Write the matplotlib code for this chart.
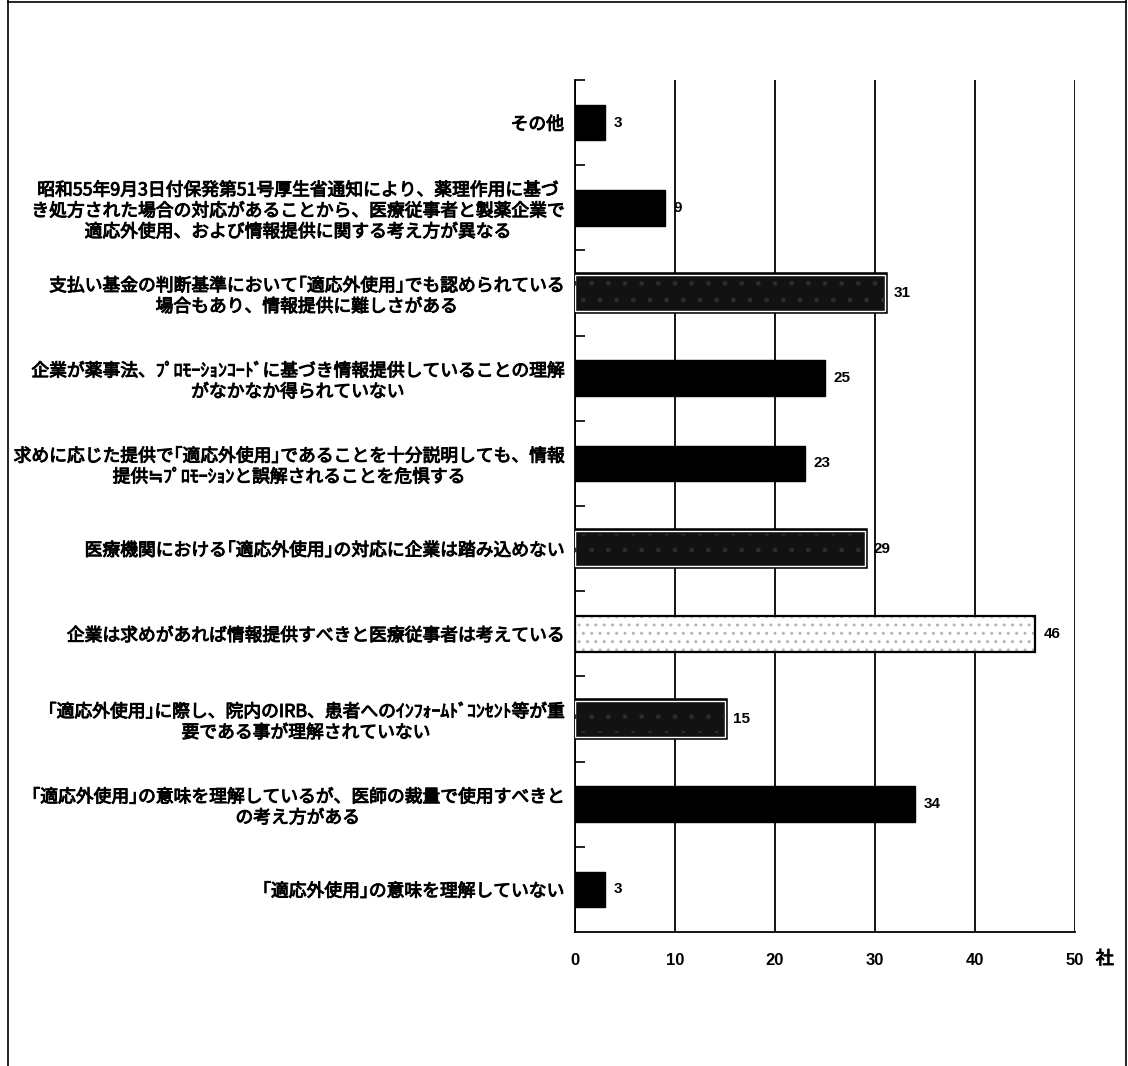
import numpy as np
import matplotlib
matplotlib.use("Agg")
import matplotlib.pyplot as plt
import matplotlib.patheffects as pe
from matplotlib.lines import Line2D
from matplotlib.ticker import FixedLocator

plt.rcParams['font.family'] = ['Noto Sans CJK JP', 'DejaVu Sans']

# ---- data (top to bottom) ----
categories = [
    "その他",
    "昭和55年9月3日付保発第51号厚生省通知により、薬理作用に基づ\nき処方された場合の対応があることから、医療従事者と製薬企業で\n適応外使用、および情報提供に関する考え方が異なる",
    "支払い基金の判断基準において｢適応外使用｣でも認められている\n場合もあり、情報提供に難しさがある",
    "企業が薬事法、ﾌﾟﾛﾓｰｼｮﾝｺｰﾄﾞに基づき情報提供していることの理解\nがなかなか得られていない",
    "求めに応じた提供で｢適応外使用｣であることを十分説明しても、情報\n提供≒ﾌﾟﾛﾓｰｼｮﾝと誤解されることを危惧する",
    "医療機関における｢適応外使用｣の対応に企業は踏み込めない",
    "企業は求めがあれば情報提供すべきと医療従事者は考えている",
    "｢適応外使用｣に際し、院内のIRB、患者へのｲﾝﾌｫｰﾑﾄﾞｺﾝｾﾝﾄ等が重\n要である事が理解されていない",
    "｢適応外使用｣の意味を理解しているが、医師の裁量で使用すべきと\nの考え方がある",
    "｢適応外使用｣の意味を理解していない",
]
values = [3, 9, 31, 25, 23, 29, 46, 15, 34, 3]
x_ticks = [0, 10, 20, 30, 40, 50]
x_unit = "社"

# fill style per bar (styling, not data)
fill_style = ['solid', 'solid', 'dark', 'solid', 'solid', 'dark', 'light', 'dark', 'solid', 'solid']

fig = plt.figure(figsize=(11.28, 10.66), dpi=100)
ax = fig.add_axes([575/1128, 1 - 932/1066, 500/1128, 852/1066])

y = np.arange(len(values))
bar_h = 0.42
num_font = ['Liberation Sans', 'DejaVu Sans']
thick = [pe.Stroke(linewidth=0.7, foreground='black'), pe.Normal()]

for i, (v, st) in enumerate(zip(values, fill_style)):
    if st == 'solid':
        bc = ax.barh(y[i], v, height=bar_h, color='black', edgecolor='black', lw=1, zorder=3)
    elif st == 'dark':
        bc = ax.barh(y[i], v, height=bar_h, color='#121212', edgecolor='white', lw=1.0,
                     zorder=3)
        for p in bc:
            p.set_path_effects([pe.Stroke(linewidth=4, foreground='black'), pe.Normal()])
        ax.barh(y[i], v, height=bar_h * 0.8, color='none', edgecolor='#2c2c2c', lw=0,
                hatch='.', zorder=3)
    else:
        ax.barh(y[i], v, height=bar_h, color='white', edgecolor='#b5b5b5', lw=0,
                hatch='..', zorder=3)
        bc = ax.barh(y[i], v, height=bar_h, fill=False, edgecolor='black', lw=1.6, zorder=4)
    ax.bar_label(bc, labels=[str(v)], padding=6, fontsize=11, fontweight='bold',
                 family=num_font)

ax.set_xlim(0, 50)
ax.set_ylim(len(values) - 0.5, -0.5)

ax.set_xticks(x_ticks)
ax.set_xticklabels([str(t) for t in x_ticks], fontsize=12, fontweight='bold', family=num_font)
ax.tick_params(axis='x', length=0, pad=15)
ax.grid(axis='x', color='black', lw=1.3, zorder=1)

ax.set_yticks(y)
ax.set_yticklabels(categories, fontsize=12.8)
for lab in ax.get_yticklabels():
    lab.set_multialignment('center')
    lab.set_path_effects(thick)
ax.tick_params(axis='y', which='major', length=0, pad=8)
ax.yaxis.set_minor_locator(FixedLocator(np.arange(-0.5, len(values) - 0.5, 1.0)))
ax.tick_params(axis='y', which='minor', direction='in', length=7, width=1.2, left=True)

for s in ['top', 'right']:
    ax.spines[s].set_visible(False)
for s in ['left', 'bottom']:
    ax.spines[s].set_color('black')
    ax.spines[s].set_linewidth(1.3)

ax.annotate(x_unit, xy=(1, 0), xycoords='axes fraction', xytext=(15, -13),
            textcoords='offset points', fontsize=13, ha='left', va='top',
            path_effects=thick)

# page frame
fig.add_artist(Line2D([8/1128, 8/1128], [0, 1], color='black', lw=1.2))
fig.add_artist(Line2D([8/1128, 1126/1128], [1 - 2/1066, 1 - 2/1066], color='black', lw=1.2))
fig.add_artist(Line2D([1126/1128, 1126/1128], [0, 1], color='black', lw=1.2))

fig.savefig("out.png", dpi=100, facecolor='white')
